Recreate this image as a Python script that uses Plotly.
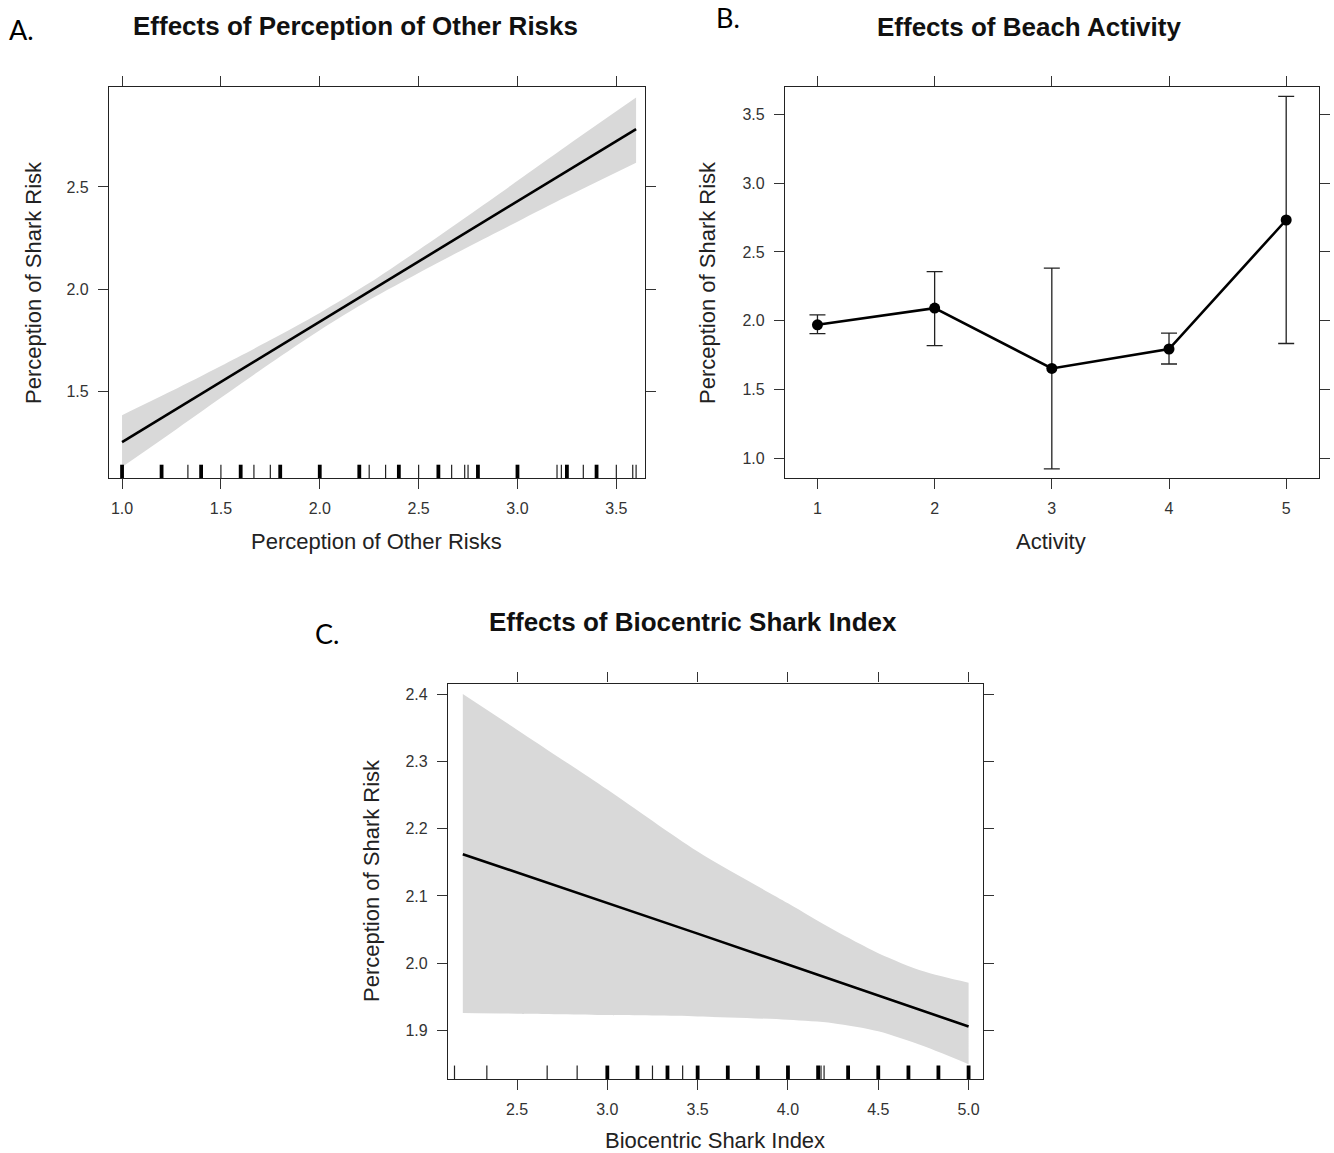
import plotly.graph_objects as go

W, H = 1334, 1153

# ---------------- Panel A: Perception of Other Risks ----------------
a_fit_x = [1.0, 3.6]
a_fit_y = [1.25, 2.784]
a_band_x = [1.0, 1.25, 1.5, 1.75, 2.0, 2.25, 2.5, 2.75, 3.0, 3.25, 3.6]
a_band_upper = [1.382, 1.50, 1.623, 1.75, 1.883, 2.029, 2.191, 2.359, 2.53, 2.702, 2.938]
a_band_lower = [1.128, 1.296, 1.467, 1.636, 1.798, 1.946, 2.079, 2.206, 2.33, 2.453, 2.619]
a_rug_heavy = [1.0, 1.2, 1.4, 1.6, 1.8, 2.0, 2.2, 2.4, 2.6, 2.8, 3.0, 3.25, 3.4]
a_rug_light = [1.333, 1.5, 1.667, 1.75, 2.25, 2.333, 2.5, 2.667, 2.733, 2.75,
               3.2, 3.222, 3.333, 3.5, 3.583, 3.6]

# ---------------- Panel B: Beach Activity ----------------
b_activity = [1, 2, 3, 4, 5]
b_effect = [1.971, 2.092, 1.654, 1.795, 2.732]
b_upper = [2.043, 2.357, 2.383, 1.911, 3.63]
b_lower = [1.906, 1.819, 0.925, 1.686, 1.835]

# ---------------- Panel C: Biocentric Shark Index ----------------
c_fit_x = [2.2, 3.5, 5.0]
c_fit_y = [2.162, 2.044, 1.906]
c_band_x = [2.2, 2.5, 3.0, 3.5, 4.0, 4.25, 4.5, 4.75, 5.0]
c_band_upper = [2.400, 2.347, 2.258, 2.166, 2.089, 2.05, 2.015, 1.988, 1.971]
c_band_lower = [1.926, 1.925, 1.923, 1.921, 1.916, 1.911, 1.899, 1.877, 1.850]
c_rug_heavy = [3.0, 3.167, 3.333, 3.5, 3.667, 3.833, 4.0, 4.167, 4.333, 4.5, 4.667, 4.833, 5.0]
c_rug_light = [2.154, 2.333, 2.667, 2.833, 3.25, 3.417, 4.183, 4.2]

BAND = "#d9d9d9"
FONT = "Liberation Sans, Arial, sans-serif"

fig = go.Figure()


def add_band(xs, up, lo, xa, ya):
    fig.add_trace(go.Scatter(x=xs, y=lo, mode="lines",
                             line=dict(width=0, shape="spline", smoothing=0.8),
                             hoverinfo="skip", showlegend=False, xaxis=xa, yaxis=ya))
    fig.add_trace(go.Scatter(x=xs, y=up, mode="lines", fill="tonexty",
                             fillcolor=BAND,
                             line=dict(width=0, shape="spline", smoothing=0.8),
                             hoverinfo="skip", showlegend=False, xaxis=xa, yaxis=ya))


add_band(a_band_x, a_band_upper, a_band_lower, "x", "y")
fig.add_trace(go.Scatter(x=a_fit_x, y=a_fit_y, mode="lines",
                         line=dict(color="black", width=2.6), showlegend=False,
                         xaxis="x", yaxis="y"))

fig.add_trace(go.Scatter(
    x=b_activity, y=b_effect, mode="lines+markers",
    line=dict(color="black", width=2.6),
    marker=dict(color="black", size=11),
    error_y=dict(type="data", symmetric=False,
                 array=[u - e for u, e in zip(b_upper, b_effect)],
                 arrayminus=[e - l for e, l in zip(b_effect, b_lower)],
                 color="#222", thickness=1.3, width=8),
    showlegend=False, xaxis="x2", yaxis="y2"))

add_band(c_band_x, c_band_upper, c_band_lower, "x3", "y3")
fig.add_trace(go.Scatter(x=c_fit_x, y=c_fit_y, mode="lines",
                         line=dict(color="black", width=2.6), showlegend=False,
                         xaxis="x3", yaxis="y3"))

shapes = []
for xr, yr, heavy, light in [("x", "y domain", a_rug_heavy, a_rug_light),
                             ("x3", "y3 domain", c_rug_heavy, c_rug_light)]:
    for v in heavy:
        shapes.append(dict(type="line", xref=xr, yref=yr, x0=v, x1=v, y0=0, y1=0.034,
                           line=dict(color="black", width=3.8)))
    for v in light:
        shapes.append(dict(type="line", xref=xr, yref=yr, x0=v, x1=v, y0=0, y1=0.034,
                           line=dict(color="#222", width=1.2)))


def ax(domain, rng, tick0, dtick, anchor):
    return dict(domain=domain, range=rng, tick0=tick0, dtick=dtick, tickmode="linear",
                tickformat=".1f" if dtick < 1 else "d",
                showline=True, linecolor="#222", linewidth=1.2, mirror="ticks",
                ticks="outside", ticklen=10, tickwidth=1.2, tickcolor="#333",
                showgrid=False, zeroline=False, anchor=anchor,
                tickfont=dict(family=FONT, size=16, color="#333"),
                ticklabelstandoff=6)


def px_x(p):
    return p / W


def px_y(p):
    return 1 - p / H


yA = [px_y(478), px_y(87)]
yC = [px_y(1079), px_y(683.5)]

layout = dict(
    width=W, height=H, margin=dict(l=0, r=0, t=0, b=0),
    paper_bgcolor="white", plot_bgcolor="white", showlegend=False,
    xaxis=ax([px_x(109), px_x(645)], [0.934, 3.645], 1.0, 0.5, "y"),
    yaxis=ax(yA, [1.074, 2.99], 1.5, 0.5, "x"),
    xaxis2=ax([px_x(785), px_x(1319)], [0.723, 5.28], 1, 1, "y2"),
    yaxis2=ax(yA, [0.858, 3.698], 1.0, 0.5, "x2"),
    xaxis3=ax([px_x(448), px_x(982.5)], [2.118, 5.077], 2.5, 0.5, "y3"),
    yaxis3=ax(yC, [1.828, 2.4156], 1.9, 0.1, "x3"),
    shapes=shapes,
)
fig.update_layout(**layout)

ann = []


def text(t, x, y, size, bold=False, angle=0, family=FONT, color="#222"):
    ann.append(dict(text=f"<b>{t}</b>" if bold else t, x=px_x(x), y=px_y(y),
                    xref="paper", yref="paper", showarrow=False, textangle=angle,
                    xanchor="center", yanchor="middle",
                    font=dict(family=family, size=size, color=color)))


text("Effects of Perception of Other Risks", 355, 26, 26, bold=True, color="#111")
text("Effects of Beach Activity", 1029, 27, 26, bold=True, color="#111")
text("Effects of Biocentric Shark Index", 693, 622, 26, bold=True, color="#111")
text("Perception of Other Risks", 377, 542, 22)
text("Activity", 1051, 542, 22)
text("Biocentric Shark Index", 715, 1140, 22)
text("Perception of Shark Risk", 33, 283, 22, angle=-90)
text("Perception of Shark Risk", 707, 283, 22, angle=-90)
text("Perception of Shark Risk", 371, 881, 22, angle=-90)
text("A.", 21, 30, 27, family="Lato, Open Sans, sans-serif", color="black")
text("B.", 728, 18, 27, family="Lato, Open Sans, sans-serif", color="black")
text("C.", 327, 633, 27, family="Lato, Open Sans, sans-serif", color="black")

fig.update_layout(annotations=ann)
fig.write_html("out.html", config={"displayModeBar": False},
               post_script="document.body.style.margin='0';document.body.style.padding='0';")
